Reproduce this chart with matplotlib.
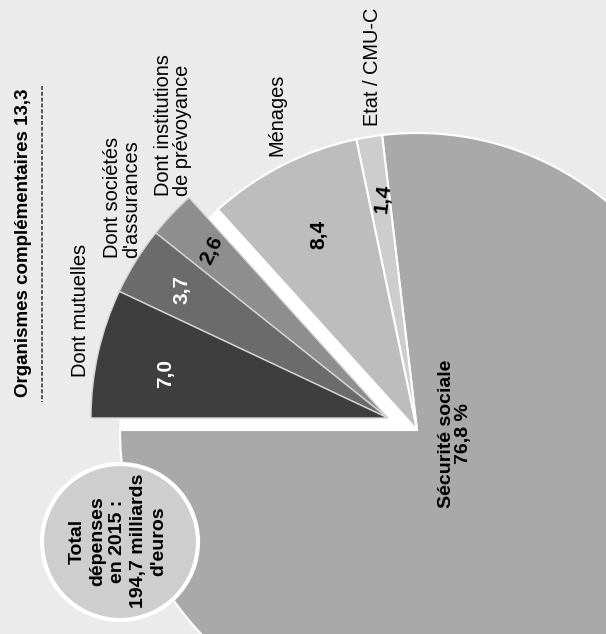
import matplotlib
matplotlib.use("Agg")
import matplotlib.pyplot as plt
from matplotlib.patches import Wedge, Circle
from matplotlib.lines import Line2D

W, H = 606, 634
plt.rcParams['font.family'] = ['Liberation Sans', 'DejaVu Sans']

# ---- data ----
categories = ["Sécurité sociale", "Etat / CMU-C", "Ménages",
              "Dont institutions\nde prévoyance", "Dont sociétés\nd'assurances", "Dont mutuelles"]
values = [76.8, 1.4, 8.4, 2.6, 3.7, 7.0]
value_labels = ["Sécurité sociale\n76,8 %", "1,4", "8,4", "2,6", "3,7", "7,0"]
complementary = [False, False, False, True, True, True]
comp_title = "Organismes complémentaires 13,3"
total_text = "Total\ndépenses\nen 2015 :\n194,7 milliards\nd'euros"

colors = ['#a9a9a9', '#cdcdcd', '#bdbdbd', '#8e8e8e', '#6b6b6b', '#3e3e3e']
text_colors = ['black', 'black', 'black', 'black', 'white', 'white']

fig = plt.figure(figsize=(W / 100, H / 100), dpi=100)
fig.patch.set_facecolor('#ebebeb')
ax = fig.add_axes([0, 0, 1, 1])


def Y(y):
    return H - y


cx, cy = 417, Y(430)
R = 297
off = (-29, 12)

wedges, _ = ax.pie(values, startangle=180, counterclock=True, colors=colors,
                   radius=R, center=(cx, cy), frame=True,
                   wedgeprops=dict(edgecolor='white', linewidth=1.5))
ax.set_xlim(0, W)
ax.set_ylim(0, H)
ax.set_aspect('equal')
ax.axis('off')

comp_w = [w for w, c in zip(wedges, complementary) if c]
t1 = min(w.theta1 for w in comp_w)
t2 = max(w.theta2 for w in comp_w)
backing = Wedge((cx, cy), R, t1, t2, facecolor='white', edgecolor='white', lw=1, zorder=0.5)
ax.add_patch(backing)
for w, c in zip(wedges, complementary):
    w.set_zorder(1)
    if c:
        w.set_center((cx + off[0], cy + off[1]))
        w.set_edgecolor('#d5d5d5')
        w.set_linewidth(1.0)

# value labels inside slices
val_pos = [(455, 434, 90), (383, 198, 83), (319, 234, 90), (212, 250, 65), (182, 289, 90), (166, 373, 90)]
for (x, y, rot), lab, tc in zip(val_pos, value_labels, text_colors):
    fs = 14 if '\n' in lab else 15
    ax.text(x, Y(y), lab, rotation=rot, ha='center', va='center', fontsize=fs,
            fontweight='bold', color=tc, multialignment='center', linespacing=1.0, zorder=5)

# category labels (outside)
cat_pos = [None, (373, 67), (277, 115), (173, 125), (122, 197), (80, 310)]
for pos, lab in zip(cat_pos, categories):
    if pos is None:
        continue
    ax.text(pos[0], Y(pos[1]), lab, rotation=90, ha='center', va='center', fontsize=14.4,
            color='black', multialignment='left', linespacing=1.0, zorder=5)

# complementary group title with dashed underline
ax.text(24, Y(243), comp_title, rotation=90, ha='center', va='center', fontsize=13.5,
        fontweight='bold', color='black', zorder=5)
ln = Line2D([42, 42], [Y(86), Y(402)], linestyle=(0, (2.0, 1.0)), color='#555555',
            linewidth=1.4, zorder=6, clip_on=False)
ax.add_line(ln)

# total circle
circ = Circle((120, Y(542)), 78, facecolor='#cecece', edgecolor='white', lw=3, zorder=3)
ax.add_patch(circ)
ax.text(118, Y(541), total_text, rotation=90, ha='center', va='center', fontsize=14,
        fontweight='bold', color='black', multialignment='center', linespacing=1.25, zorder=5)

fig.savefig('out.png', dpi=100, facecolor=fig.get_facecolor())
